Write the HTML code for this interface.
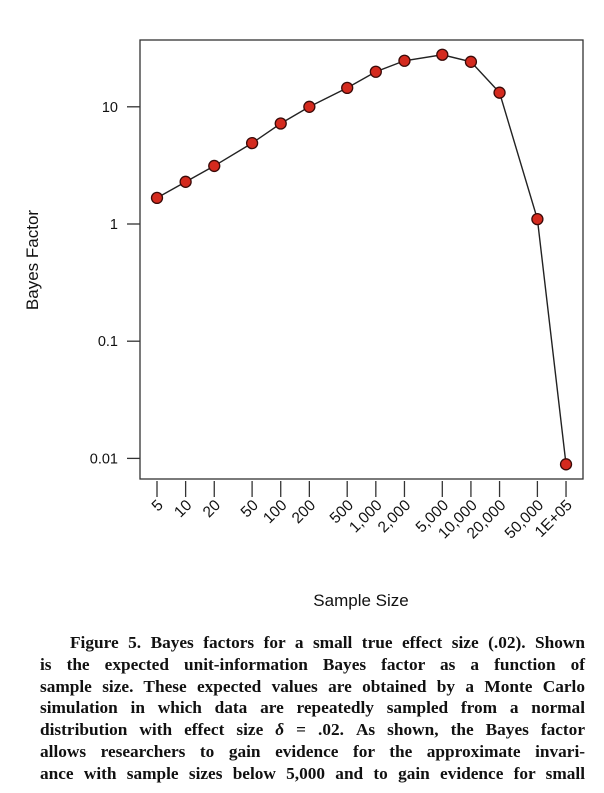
<!DOCTYPE html>
<html><head><meta charset="utf-8"><style>
body{margin:0;background:#fff;width:604px;height:793px;overflow:hidden;position:relative}
#cap{position:absolute;left:40px;top:632px;width:545px;font-family:"Liberation Serif",serif;font-weight:bold;font-size:17.3px;line-height:21.8px;color:#111;letter-spacing:0}
#cap div{text-align:justify;text-align-last:justify;white-space:nowrap}
#cap div.ind{padding-left:30px}
</style></head><body>
<svg id="chart" width="604" height="630" style="position:absolute;left:0;top:0" font-family="Liberation Sans, sans-serif"></svg>
<div id="cap">
<div class="ind">Figure 5. Bayes factors for a small true effect size (.02). Shown</div>
<div>is the expected unit-information Bayes factor as a function of</div>
<div>sample size. These expected values are obtained by a Monte Carlo</div>
<div>simulation in which data are repeatedly sampled from a normal</div>
<div>distribution with effect size <i>δ</i> = .02. As shown, the Bayes factor</div>
<div>allows researchers to gain evidence for the approximate invari-</div>
<div>ance with sample sizes below 5,000 and to gain evidence for small</div>
</div>
<script>
const sampleSizes=[5,10,20,50,100,200,500,1000,2000,5000,10000,20000,50000,100000];
const xLabels=["5","10","20","50","100","200","500","1,000","2,000","5,000","10,000","20,000","50,000","1E+05"];
const bayesFactors=[1.67,2.29,3.13,4.9,7.2,10,14.5,19.9,24.7,27.8,24.2,13.2,1.1,0.0089];
const yTicks=[10,1,0.1,0.01];
const yTickLabels=["10","1","0.1","0.01"];
const svg=document.getElementById('chart');
const NS='http://www.w3.org/2000/svg';
function mk(t,a,p){const e=document.createElementNS(NS,t);for(const k in a)e.setAttribute(k,a[k]);(p||svg).appendChild(e);return e;}
const x=v=>157+(Math.log10(v)-Math.log10(5))*95.1;
const y=v=>224-Math.log10(v)*117.2;
let f=mk('rect',{x:140,y:40,width:443,height:439,fill:'none',stroke:'#333','stroke-width':1.3});


yTicks.forEach((v,i)=>{
 let t=mk('line',{x1:127,x2:140,y1:y(v),y2:y(v),stroke:'#333','stroke-width':1.3});
 
 
 let l=mk('text',{x:118,y:y(v)+5,'text-anchor':'end','font-size':14.5,fill:'#111'});
 l.textContent=yTickLabels[i];
 
 
});
sampleSizes.forEach((v,i)=>{
 let t=mk('line',{x1:x(v),x2:x(v),y1:481,y2:497,stroke:'#333','stroke-width':1.3});
 
 
 let l=mk('text',{x:x(v)+7,y:506,'text-anchor':'end','font-size':15.5,fill:'#111',transform:`rotate(-45 ${x(v)+7} 506)`});
 l.textContent=xLabels[i];
 
 
});
let pl=mk('polyline',{points:sampleSizes.map((v,i)=>x(v)+','+y(bayesFactors[i])).join(' '),fill:'none',stroke:'#222','stroke-width':1.4});


sampleSizes.forEach((v,i)=>{
 let c=mk('circle',{cx:x(v),cy:y(bayesFactors[i]),r:5.5,fill:'#d42a1e',stroke:'#3a0a08','stroke-width':1.3});
 
 
});
let xt=mk('text',{x:361,y:606,'text-anchor':'middle','font-size':17,fill:'#111'});
xt.textContent='Sample Size';


let yt=mk('text',{x:38,y:260,'text-anchor':'middle','font-size':17,fill:'#111',transform:'rotate(-90 38 260)'});
yt.textContent='Bayes Factor';


</script>
</body></html>
